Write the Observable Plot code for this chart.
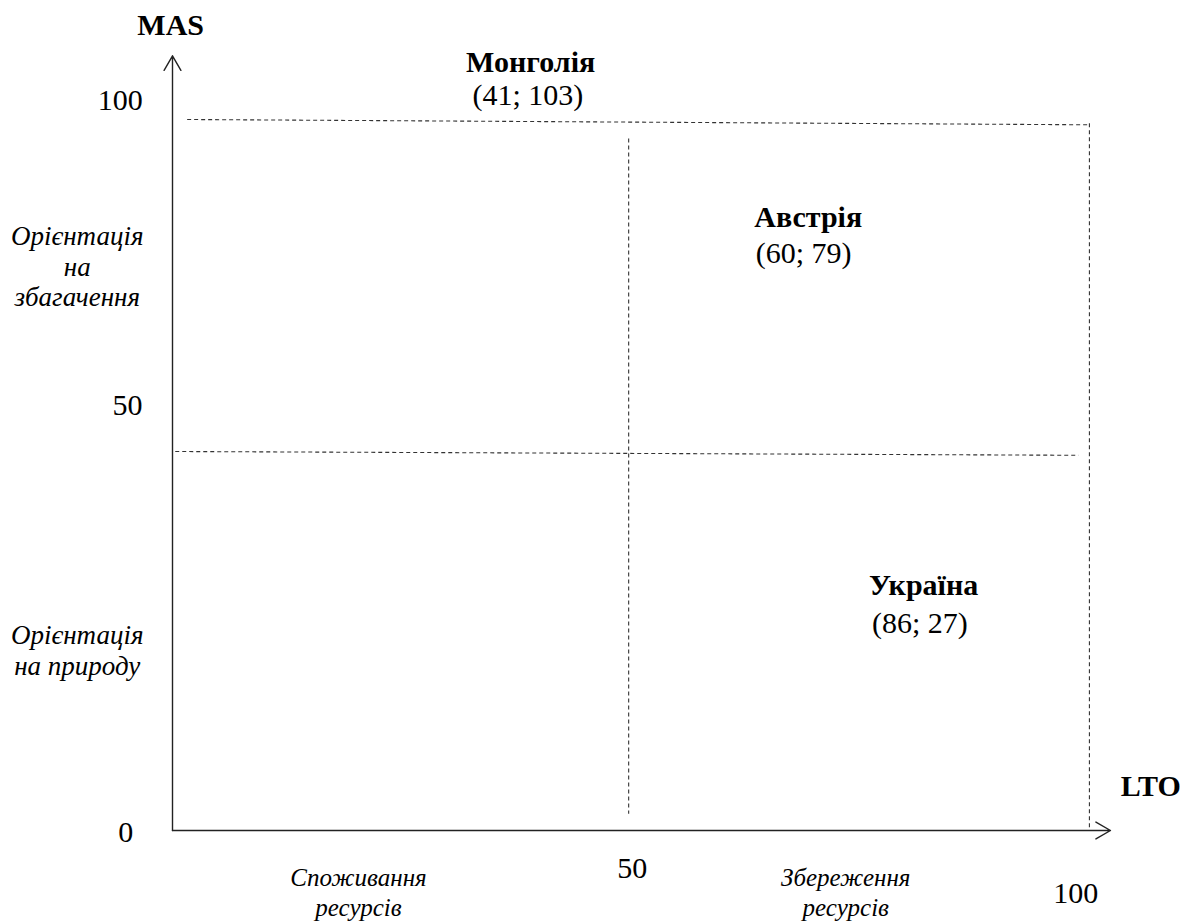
<!DOCTYPE html>
<html>
<head>
<meta charset="utf-8">
<script src="https://cdn.jsdelivr.net/npm/d3@7"></script>
<script src="https://cdn.jsdelivr.net/npm/@observablehq/plot@0.6"></script>
<style>
  html, body { margin: 0; padding: 0; background: #fff; }
</style>
</head>
<body>
<div id="chart"></div>
<script>
// ---- Data ----
const countries = ["Монголія", "Австрія", "Україна"];
const ltoValues = [41, 60, 86];
const masValues = [103, 79, 27];
// label anchor points (data units) for the schematic
const nameX = [39.1, 69.4, 82.0];
const nameY = [101.3, 80.9, 32.3];
const coordX = [38.8, 68.9, 81.6];
const coordY = [97.0, 76.1, 27.3];

const yTickValues = [0, 50, 100];
const yTickX = [-5.1, -4.9, -5.7];
const yTickY = [-0.3, 56.1, 96.3];
const xTickValues = [50, 100];
const xTickX = [50.2, 98.6];
const xTickY = [-5.0, -8.3];

const axisTitles = ["MAS", "LTO"];
const axisTitleX = [-0.2, 106.8];
const axisTitleY = [106.2, 5.8];

const sideLabels = ["Орієнтація\nна\nзбагачення", "Орієнтація\nна природу"];
const sideX = [-10.4, -10.4];
const sideY = [74.5, 23.9];
const bottomLabels = ["Споживання\nресурсів", "Збереження\nресурсів"];
const bottomX = [20.3, 73.5];
const bottomY = [-8.0, -8.0];

// dashed quadrant / frame lines (data units)
const dashX1 = [1.6, 100.1, 0.3, 49.8];
const dashY1 = [93.8, 93.3, 50.0, 91.3];
const dashX2 = [100.0, 100.1, 98.9, 49.8];
const dashY2 = [93.1, 0, 49.5, 2.2];

// axes arrows
const axisX1 = [0, 0];
const axisY1 = [0, 0];
const axisX2 = [0, 102.4];
const axisY2 = [102.2, 0];

// ---- Build tables ----
const countryTable = countries.map((c, i) => ({
  name: c, coord: `(${ltoValues[i]}; ${masValues[i]})`,
  nx: nameX[i], ny: nameY[i], cx: coordX[i], cy: coordY[i]
}));
const yTicks = yTickValues.map((v, i) => ({label: String(v), x: yTickX[i], y: yTickY[i]}));
const xTicks = xTickValues.map((v, i) => ({label: String(v), x: xTickX[i], y: xTickY[i]}));
const titles = axisTitles.map((t, i) => ({t, x: axisTitleX[i], y: axisTitleY[i]}));
const sides = sideLabels.map((t, i) => ({t, x: sideX[i], y: sideY[i]}));
const bottoms = bottomLabels.map((t, i) => ({t, x: bottomX[i], y: bottomY[i]}));
const dashes = dashX1.map((_, i) => ({x1: dashX1[i], y1: dashY1[i], x2: dashX2[i], y2: dashY2[i]}));
const axes = axisX1.map((_, i) => ({x1: axisX1[i], y1: axisY1[i], x2: axisX2[i], y2: axisY2[i]}));

const font = "Liberation Serif";

const chart = Plot.plot({
  width: 1187,
  height: 924,
  marginLeft: 172,
  marginRight: 99,
  marginTop: 72,
  marginBottom: 94,
  x: {domain: [0, 100], axis: null},
  y: {domain: [0, 100], axis: null},
  marks: [
    Plot.link(dashes, {x1: "x1", y1: "y1", x2: "x2", y2: "y2",
      stroke: "#333", strokeWidth: 1.1, strokeDasharray: "4,3"}),
    Plot.arrow(axes, {x1: "x1", y1: "y1", x2: "x2", y2: "y2",
      stroke: "#222", strokeWidth: 1.4, headLength: 18, headAngle: 60}),
    Plot.text(titles, {x: "x", y: "y", text: "t", fontFamily: font, fontSize: 30, fontWeight: "bold", fill: "#000"}),
    Plot.text(yTicks, {x: "x", y: "y", text: "label", fontFamily: font, fontSize: 30, fill: "#000"}),
    Plot.text(xTicks, {x: "x", y: "y", text: "label", fontFamily: font, fontSize: 30, fill: "#000"}),
    Plot.text(sides, {x: "x", y: "y", text: "t", fontFamily: font, fontSize: 27, fontStyle: "italic", lineHeight: 1.14, fill: "#000"}),
    Plot.text(bottoms, {x: "x", y: "y", text: "t", fontFamily: font, fontSize: 25, fontStyle: "italic", lineHeight: 1.2, fill: "#000"}),
    Plot.text(countryTable, {x: "nx", y: "ny", text: "name", fontFamily: font, fontSize: 30, fontWeight: "bold", fill: "#000"}),
    Plot.text(countryTable, {x: "cx", y: "cy", text: "coord", fontFamily: font, fontSize: 30, fill: "#000"})
  ]
});
document.getElementById("chart").appendChild(chart);
</script>
</body>
</html>
